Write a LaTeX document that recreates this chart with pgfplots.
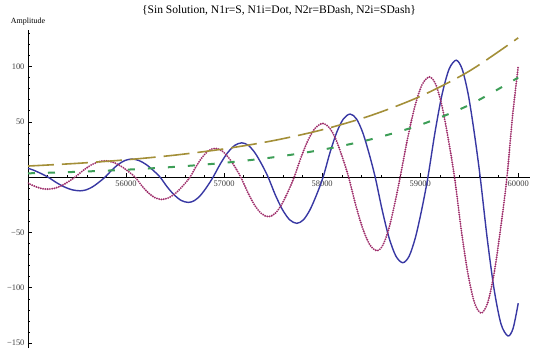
\documentclass[border=0pt]{standalone}
\usepackage{fontspec}
\setmainfont{Liberation Serif}
\usepackage{pgfplots}
\pgfplotsset{compat=1.18}
\definecolor{mblue}{rgb}{0.22,0.22,0.64}
\definecolor{mpurple}{rgb}{0.62,0.18,0.42}
\definecolor{mgold}{rgb}{0.64,0.56,0.22}
\definecolor{mgreen}{rgb}{0.24,0.62,0.34}
\begin{document}
\begin{tikzpicture}
\begin{axis}[
  scale only axis, width=502bp, height=318bp,
  xmin=55000, xmax=60120, ymin=-154.5, ymax=133,
  axis x line*=middle, axis y line*=left,
  axis line style={black, line width=0.6bp},
  tick align=inside,
  major tick length=4bp, minor tick length=2.5bp,
  every tick/.style={black, line width=0.5bp},
  xtick={56000,57000,58000,59000,60000},
  xticklabels={56000,57000,58000,59000,60000},
  minor xtick={55200,55400,55600,55800,56200,56400,56600,56800,57200,57400,57600,57800,58200,58400,58600,58800,59200,59400,59600,59800},
  ytick={-150,-100,-50,50,100},
  yticklabels={−150,−100,−50,50,100},
  minor ytick={-140,-130,-120,-110,-90,-80,-70,-60,-40,-30,-20,-10,10,20,30,40,60,70,80,90,110,120,130},
  tick label style={font=\fontsize{8.5}{10}\selectfont, text=black!75},
  /pgf/number format/assume math mode=true,
  scaled ticks=false,
]
\coordinate (SW) at (rel axis cs:0,0);
\coordinate (NE) at (rel axis cs:1,1);
\coordinate (NW) at (rel axis cs:0,1);
\coordinate (NT) at (rel axis cs:0.5,1);
% N1r solid
\addplot[mblue, line width=1.4bp, smooth] coordinates {
(55000,8) (55050,6.5) (55100,4.6) (55150,2.5) (55204,0)
(55286,-4.75) (55368,-8.77) (55449,-11.46) (55531,-12.4)
(55595,-11.46) (55659,-8.77) (55722,-4.75) (55786,0)
(55854,6.24) (55922,11.52) (55990,15.06) (56058,16.3)
(56130,15.06) (56203,11.52) (56275,6.24) (56347,0)
(56419,-8.77) (56492,-16.19) (56564,-21.16) (56636,-22.9)
(56699,-21.16) (56762,-16.19) (56825,-8.77) (56888,0)
(56961,11.87) (57035,21.92) (57108,28.64) (57181,31)
(57248,28.64) (57315,21.92) (57382,11.87) (57449,0)
(57522,-16.0) (57596,-29.55) (57669,-38.62) (57742,-41.8)
(57809,-38.62) (57876,-29.55) (57943,-16.0) (58010,0)
(58079,21.83) (58148,40.3) (58217,52.67) (58286,57)
(58350,52.67) (58414,40.3) (58477,21.83) (58541,0)
(58612,-29.64) (58682,-54.72) (58753,-71.52) (58823,-77.4)
(58887,-71.52) (58951,-54.72) (59015,-29.64) (59079,0)
(59151,40.48) (59223,74.73) (59295,97.67) (59367,105.7)
(59428,97.67) (59490,74.73) (59551,40.48) (59612,0)
(59683,-55.0) (59754,-101.5) (59824,-132.7) (59895,-143.6)
(59948,-136.6) (60000,-114)
};
% N1i dotted
\addplot[mpurple, line width=2.1bp, line cap=round, dash pattern=on 0pt off 2.3bp, smooth] coordinates {
(55000,-5.5) (55050,-7.6) (55100,-9.3) (55150,-10.5) (55204,-10.9)
(55273,-10.07) (55342,-7.71) (55411,-4.17) (55480,0)
(55557,5.63) (55633,10.39) (55710,13.58) (55786,14.7)
(55863,13.58) (55939,10.39) (56016,5.63) (56092,0)
(56160,-7.74) (56228,-14.28) (56296,-18.66) (56364,-20.2)
(56436,-18.66) (56509,-14.28) (56581,-7.74) (56653,0)
(56717,9.96) (56781,18.38) (56844,24.02) (56908,26)
(56974,24.02) (57039,18.38) (57105,9.96) (57170,0)
(57241,-13.71) (57311,-25.31) (57382,-33.08) (57452,-35.8)
(57518,-33.08) (57584,-25.31) (57649,-13.71) (57715,0)
(57788,18.58) (57861,34.29) (57934,44.81) (58007,48.5)
(58073,44.81) (58139,34.29) (58204,18.58) (58270,0)
(58343,-25.47) (58416,-47.02) (58488,-61.45) (58561,-66.5)
(58620,-61.45) (58679,-47.02) (58737,-25.47) (58796,0)
(58871,34.7) (58946,64.05) (59020,83.71) (59095,90.6)
(59159,83.71) (59223,64.05) (59286,34.7) (59350,0)
(59418,-47.11) (59486,-86.96) (59554,-113.65) (59622,-123)
(59688,-113.65) (59754,-86.96) (59819,-47.11) (59885,0)
(59943,56) (60000,100)
};
% N2r big dash
\addplot[mgold, line width=1.6bp, dash pattern=on 26bp off 8bp, smooth] coordinates {
(55000,10) (55500,12.43) (56000,15.64) (56500,19.89) (57000,25.51) (57500,32.95)
(58000,42.78) (58500,55.8) (59000,73.0) (59500,95.8) (60000,125.9)
};
% N2i small dash
\addplot[mgreen, line width=2bp, dash pattern=on 7bp off 13bp, smooth] coordinates {
(55000,3.4) (55500,4.77) (56000,6.68) (56500,9.30) (57000,12.9) (57500,17.89)
(58000,24.75) (58500,34.2) (59000,47.2) (59500,65.2) (60000,90)
};
\end{axis}
\node[font=\fontsize{11.6}{14}\selectfont] at ([yshift=20bp]NT) {\{Sin Solution, N1r=S, N1i=Dot, N2r=BDash, N2i=SDash\}};
\node[font=\fontsize{8}{9}\selectfont] at ([yshift=8bp]NW) {Amplitude};
\pgfresetboundingbox
\path ([shift={(-28bp,-4bp)}]SW) rectangle ([shift={(4bp,30bp)}]NE);
\end{tikzpicture}
\end{document}
